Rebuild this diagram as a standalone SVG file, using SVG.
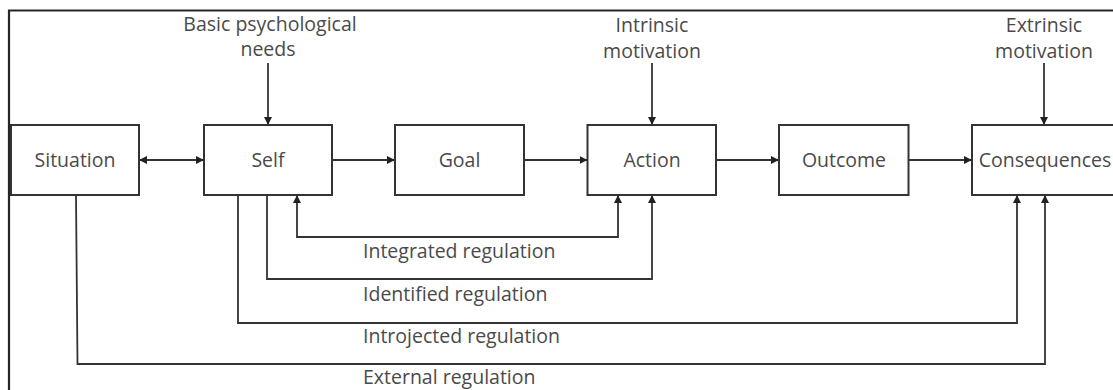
<svg xmlns="http://www.w3.org/2000/svg" width="1113" height="390" viewBox="0 0 1113 390">
  <style>
    .frame { fill: none; stroke: #262626; stroke-width: 2.2; }
    .box { fill: #ffffff; stroke: #333333; stroke-width: 2; }
    .lbl { font-family: "Open Sans", "Liberation Sans", sans-serif; font-size: 19.5px; fill: #4a4a4a; }
    .mid { text-anchor: middle; }
    .conn { fill: none; stroke: #333333; stroke-width: 1.8; }
  </style>
  <defs>
    <marker id="arr" markerUnits="userSpaceOnUse" markerWidth="9" markerHeight="8" refX="8" refY="4" orient="auto-start-reverse" viewBox="0 0 9 8">
      <path d="M0,0 L8,4 L0,8 z" fill="#222222"/>
    </marker>
  </defs>
  <rect x="0" y="0" width="1113" height="390" fill="#ffffff"/>
  <path class="frame" d="M9,390 V10.5 H1113"/>

  <g id="connectors">
    <line class="conn" x1="139" y1="160" x2="204" y2="160" marker-start="url(#arr)" marker-end="url(#arr)"/>
    <line class="conn" x1="332" y1="160" x2="395" y2="160" marker-end="url(#arr)"/>
    <line class="conn" x1="524" y1="160" x2="587.5" y2="160" marker-end="url(#arr)"/>
    <line class="conn" x1="716" y1="160" x2="779" y2="160" marker-end="url(#arr)"/>
    <line class="conn" x1="908.5" y1="160" x2="972" y2="160" marker-end="url(#arr)"/>
    <line class="conn" x1="268" y1="63" x2="268" y2="125" marker-end="url(#arr)"/>
    <line class="conn" x1="652" y1="63" x2="652" y2="125" marker-end="url(#arr)"/>
    <line class="conn" x1="1044" y1="63" x2="1044" y2="125" marker-end="url(#arr)"/>
    <path class="conn" d="M297,195 V237 H618 V195" marker-start="url(#arr)" marker-end="url(#arr)"/>
    <path class="conn" d="M267,195 V279 H652 V195" marker-end="url(#arr)"/>
    <path class="conn" d="M238,195 V323 H1017 V195" marker-end="url(#arr)"/>
    <path class="conn" d="M76,195 L77.5,364 H1045 V195" marker-end="url(#arr)"/>
  </g>

  <g id="situation">
    <rect class="box" x="11" y="125" width="128" height="70"/>
    <text class="lbl mid" x="75" y="167">Situation</text>
  </g>
  <g id="self">
    <rect class="box" x="204" y="125" width="128" height="70"/>
    <text class="lbl mid" x="268" y="167">Self</text>
  </g>
  <g id="goal">
    <rect class="box" x="395" y="125" width="129" height="70"/>
    <text class="lbl mid" x="459.5" y="167">Goal</text>
  </g>
  <g id="action">
    <rect class="box" x="587.5" y="125" width="128.5" height="70"/>
    <text class="lbl mid" x="652" y="167">Action</text>
  </g>
  <g id="outcome">
    <rect class="box" x="779" y="125" width="129.5" height="70"/>
    <text class="lbl mid" x="844" y="167">Outcome</text>
  </g>
  <g id="consequences">
    <rect class="box" x="972" y="125" width="160" height="70"/>
    <text class="lbl mid" x="1045" y="167">Consequences</text>
  </g>

  <g id="basic-needs">
    <text class="lbl mid" x="270" y="31">Basic psychological</text>
    <text class="lbl mid" x="268" y="56">needs</text>
  </g>
  <g id="intrinsic">
    <text class="lbl mid" x="652" y="32">Intrinsic</text>
    <text class="lbl mid" x="652" y="58">motivation</text>
  </g>
  <g id="extrinsic">
    <text class="lbl mid" x="1044" y="32">Extrinsic</text>
    <text class="lbl mid" x="1044" y="58">motivation</text>
  </g>

  <g id="regulation-labels">
    <text class="lbl" x="363" y="258">Integrated regulation</text>
    <text class="lbl" x="363" y="301">Identified regulation</text>
    <text class="lbl" x="363" y="343">Introjected regulation</text>
    <text class="lbl" x="363" y="384">External regulation</text>
  </g>
</svg>
